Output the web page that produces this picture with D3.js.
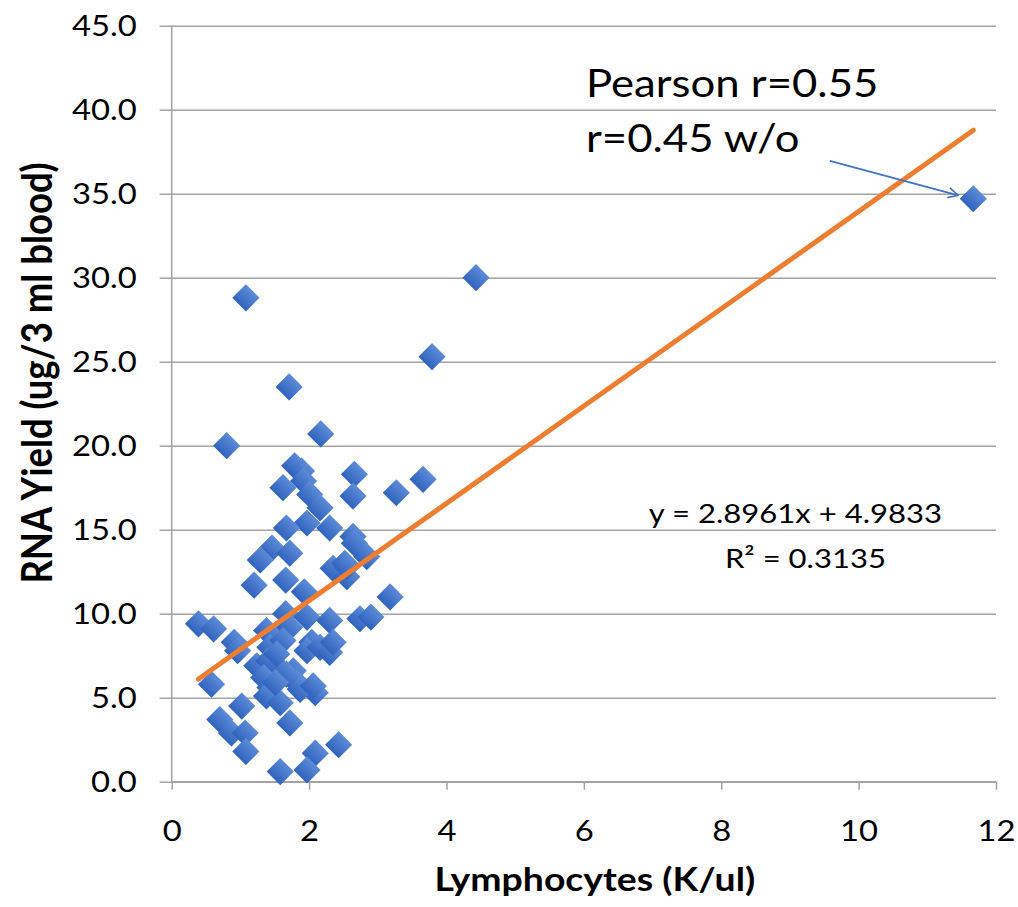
<!DOCTYPE html>
<html>
<head>
<meta charset="utf-8">
<script src="https://cdn.jsdelivr.net/npm/d3@7"></script>
<style>
  body { margin: 0; background: #fff; }
  text { font-family: Lato, "Open Sans", sans-serif; fill: #000; }
</style>
</head>
<body>
<div id="chart"></div>
<script>
// Lymphocytes (K/ul)
const lymphocytes = [
    0.80, 2.17, 1.79, 1.89, 2.66, 3.66, 3.27, 1.62, 1.92, 2.64,
    2.01, 2.16, 1.97, 1.67, 2.30, 2.64, 2.66, 2.84, 1.46, 1.29,
    1.72, 1.20, 1.66, 2.35, 2.52, 2.55, 3.18, 1.93, 0.39, 0.61,
    0.91, 0.96, 1.66, 1.97, 2.30, 2.74, 2.90, 1.38, 1.72, 2.04,
    1.97, 2.16, 2.30, 2.35, 1.43, 1.62, 1.24, 1.41, 1.55, 1.77,
    1.34, 1.82, 0.58, 1.43, 2.09, 1.87, 1.38, 1.58, 1.02, 0.70,
    1.72, 0.87, 1.07, 1.08, 2.09, 2.43, 1.58, 1.97, 1.53, 1.67,
    1.51, 2.06, 2.55, 1.08, 1.71, 4.43, 3.79, 11.67
];
// RNA yield (ug/3 ml blood)
const rnaYield = [
    20.0, 20.7, 18.8, 18.5, 18.3, 18.0, 17.2, 17.5, 17.9, 17.0,
    17.1, 16.3, 15.4, 15.1, 15.1, 14.6, 14.2, 13.4, 13.9, 13.2,
    13.6, 11.7, 12.0, 12.7, 13.0, 12.2, 11.0, 11.3, 9.4, 9.1,
    8.3, 7.8, 10.0, 9.8, 9.6, 9.7, 9.8, 9.0, 9.2, 8.3,
    7.8, 8.0, 7.7, 8.3, 8.0, 8.4, 6.9, 7.2, 6.8, 6.6,
    6.2, 5.9, 5.8, 5.6, 5.3, 5.5, 5.1, 4.7, 4.5, 3.7,
    3.5, 2.9, 2.9, 1.8, 1.7, 2.2, 0.6, 0.7, 7.6, 6.4,
    5.9, 5.7, 12.8, 28.8, 23.5, 30.0, 25.3, 34.7
];

const xTicks = [0, 2, 4, 6, 8, 10, 12];
const yTicks = [0, 5, 10, 15, 20, 25, 30, 35, 40, 45];

// linear trend from the reference label
const trendSlope = 2.8961;
const trendIntercept = 4.9833;
const equationLines = ["y = 2.8961x + 4.9833", "R² = 0.3135"];
const noteLines = ["Pearson r=0.55", "r=0.45 w/o"];

const points = lymphocytes.map((x, i) => ({ x: x, y: rnaYield[i] }));

const margin = { top: 25.7, right: 22, bottom: 125.3, left: 171.7 };
const width = 1018 - margin.left - margin.right;
const height = 907 - margin.top - margin.bottom;
const sx = 1.15; // glyphs in the reference are a bit wide

const svg = d3.select("#chart").append("svg")
    .attr("width", 1018)
    .attr("height", 907);

const defs = svg.append("defs");
const grad = defs.append("linearGradient")
    .attr("id", "dia")
    .attr("x1", 0).attr("y1", 0).attr("x2", 0).attr("y2", 1);
grad.append("stop").attr("offset", "0%").attr("stop-color", "#5d8bd8");
grad.append("stop").attr("offset", "100%").attr("stop-color", "#2f63bd");

const marker = defs.append("marker")
    .attr("id", "arrow")
    .attr("viewBox", "0 0 12 12")
    .attr("refX", 11).attr("refY", 6)
    .attr("markerWidth", 12).attr("markerHeight", 12)
    .attr("markerUnits", "userSpaceOnUse")
    .attr("orient", "auto");
marker.append("path")
    .attr("d", "M1,1 L11,6 L1,11")
    .attr("fill", "none")
    .attr("stroke", "#4472c4")
    .attr("stroke-width", 1.6);

const g = svg.append("g")
    .attr("transform", `translate(${margin.left},${margin.top})`);

const x = d3.scaleLinear().domain([0, 12]).range([0, width]);
const y = d3.scaleLinear().domain([0, 45]).range([height, 0]);

// horizontal gridlines + y axis
const yAxis = g.append("g")
    .call(d3.axisLeft(y).tickValues(yTicks).tickSize(12).tickFormat(d => d.toFixed(1)));
yAxis.select(".domain").remove();
yAxis.selectAll(".tick line")
    .attr("x2", width)
    .attr("x1", -12)
    .attr("stroke", "#a3a3a3")
    .attr("stroke-width", 1.5);
yAxis.selectAll(".tick text")
    .attr("x", null)
    .attr("dy", "0.35em")
    .attr("transform", `translate(-35,0) scale(${sx},1)`)
    .style("font-size", "28.5px")
    .style("font-family", "Lato, sans-serif")
    .attr("fill", "#000");

g.append("line")
    .attr("x1", 0).attr("x2", 0)
    .attr("y1", 0).attr("y2", height)
    .attr("stroke", "#a3a3a3")
    .attr("stroke-width", 1.5);

// x axis
const xAxis = g.append("g")
    .attr("transform", `translate(0,${height})`)
    .call(d3.axisBottom(x).tickValues(xTicks).tickSize(8).tickFormat(d3.format("d")));
xAxis.select(".domain")
    .attr("d", `M0,0H${width}`)
    .attr("stroke", "#a3a3a3")
    .attr("stroke-width", 1.5);
xAxis.selectAll(".tick line")
    .attr("stroke", "#a3a3a3")
    .attr("stroke-width", 1.5);
xAxis.selectAll(".tick text")
    .attr("y", null)
    .attr("dy", null)
    .attr("transform", `translate(0,59) scale(${sx},1)`)
    .style("font-size", "28.5px")
    .style("font-family", "Lato, sans-serif")
    .attr("fill", "#000");

// points
g.selectAll(".pt")
    .data(points)
    .enter().append("path")
    .attr("class", "pt")
    .attr("d", d3.symbol(d3.symbolSquare, 370))
    .attr("transform", d => `translate(${x(d.x)},${y(d.y)}) rotate(45)`)
    .attr("fill", "url(#dia)");

// trend line over the data range
const xExt = d3.extent(lymphocytes);
g.append("line")
    .attr("x1", x(xExt[0]))
    .attr("y1", y(trendSlope * xExt[0] + trendIntercept))
    .attr("x2", x(xExt[1]))
    .attr("y2", y(trendSlope * xExt[1] + trendIntercept))
    .attr("stroke", "#ed7d31")
    .attr("stroke-width", 5)
    .attr("stroke-linecap", "round");

// equation label
equationLines.forEach((t, i) => {
    g.append("g")
        .attr("transform", `translate(${x(9.08) + i * 10},${y(15.4) + i * 45}) scale(${sx},1)`)
        .append("text")
        .attr("text-anchor", "middle")
        .style("font-size", "27px")
        .text(t);
});

// pearson note + arrow to the outlier
noteLines.forEach((t, i) => {
    g.append("g")
        .attr("transform", `translate(${x(6.03)},${y(40.75) + i * 55}) scale(${sx},1)`)
        .append("text")
        .style("font-size", "38px")
        .text(t);
});

g.append("line")
    .attr("x1", x(9.58)).attr("y1", y(36.95))
    .attr("x2", x(11.45)).attr("y2", y(34.9))
    .attr("stroke", "#4472c4")
    .attr("stroke-width", 1.8)
    .attr("marker-end", "url(#arrow)");

// axis titles
g.append("g")
    .attr("transform", `translate(${width / 2 + 11},${height + 109}) scale(${sx},1)`)
    .append("text")
    .attr("text-anchor", "middle")
    .style("font-size", "32.5px")
    .style("font-weight", "bold")
    .text("Lymphocytes (K/ul)");

svg.append("g")
    .attr("transform", `translate(52,373) rotate(-90) scale(1,${sx})`)
    .append("text")
    .attr("text-anchor", "middle")
    .style("font-size", "36.5px")
    .style("font-weight", "bold")
    .text("RNA Yield (ug/3 ml blood)");
</script>
</body>
</html>
